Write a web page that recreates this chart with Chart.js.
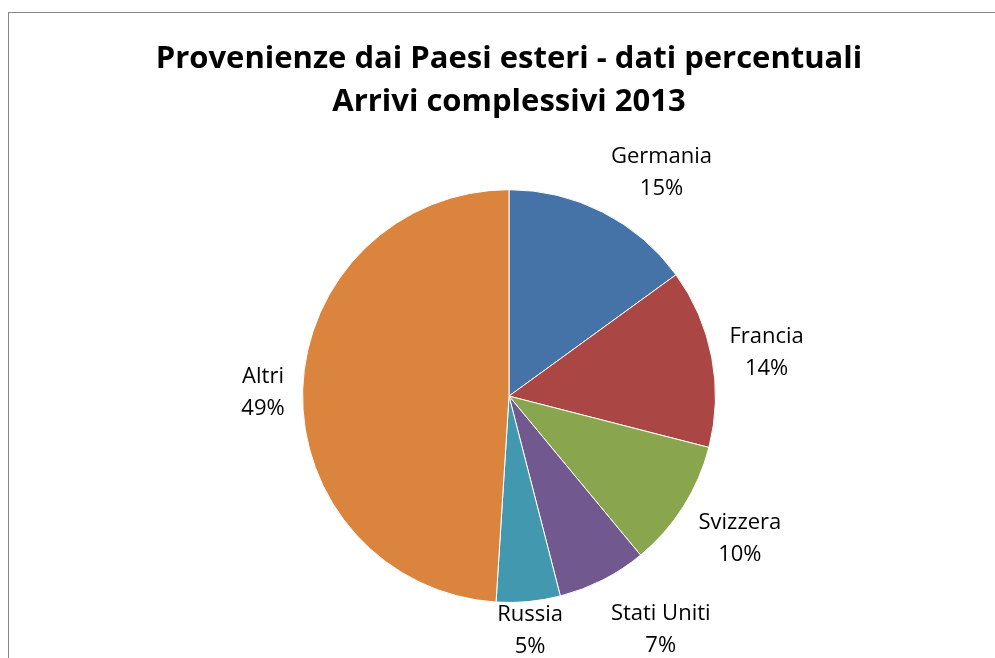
<!DOCTYPE html>
<html>
<head>
<meta charset="utf-8">
<script src="https://cdn.jsdelivr.net/npm/chart.js@4"></script>
<style>
  html, body { margin: 0; padding: 0; background: #fff; overflow: hidden; }
  #frame { position: absolute; left: 8px; top: 12px; width: 1100px; height: 800px; border: 1px solid #868686; }
  #wrap { position: absolute; left: 0; top: 0; width: 995px; height: 658px; }
</style>
</head>
<body>
<div id="frame"></div>
<div id="wrap"><canvas id="pieChart"></canvas></div>
<script>
const paesi = ['Germania', 'Francia', 'Svizzera', 'Stati Uniti', 'Russia', 'Altri'];
const percentuali = [15, 14, 10, 7, 5, 49];
const colori = ['#4572A7', '#AA4643', '#89A54E', '#71588F', '#4198AF', '#DB843D'];
const titolo = ['Provenienze dai Paesi esteri - dati percentuali', 'Arrivi complessivi 2013'];

const labelFont = '22px "Open Sans"';

// spostamento orizzontale dell'etichetta fuori dalla fetta
function spintaX(d) {
    const v = Math.max(0, Math.min(1, (Math.abs(d) - 0.15) * 3.3));
    return Math.sign(d) * v;
}

// etichette esterne (categoria + percentuale), stile Excel
const outsideLabels = {
    id: 'outsideLabels',
    afterDatasetsDraw(chart) {
        const ctx = chart.ctx;
        const meta = chart.getDatasetMeta(0);
        const total = percentuali.reduce((a, b) => a + b, 0);
        ctx.save();
        ctx.font = labelFont;
        ctx.fillStyle = '#000';
        ctx.textAlign = 'center';
        ctx.textBaseline = 'middle';
        const lineH = 32;
        meta.data.forEach((arc, i) => {
            const p = arc.getProps(['x', 'y', 'startAngle', 'endAngle', 'outerRadius']);
            const mid = (p.startAngle + p.endAngle) / 2;
            const dx = Math.cos(mid), dy = Math.sin(mid);
            const r = p.outerRadius + 18;
            const ax = p.x + dx * r, ay = p.y + dy * r;
            const lines = [paesi[i], Math.round(percentuali[i] / total * 100) + '%'];
            const w = Math.max(...lines.map(l => ctx.measureText(l).width));
            const h = lineH * lines.length;
            let cx = ax + spintaX(dx) * w / 2;
            let cy = ay + dy * h / 2 + 5;
            cy = Math.min(cy, chart.height + 5 - h / 2);
            lines.forEach((l, k) => {
                ctx.fillText(l, cx, cy - h / 2 + lineH / 2 + k * lineH);
            });
        });
        ctx.restore();
    }
};

document.addEventListener('DOMContentLoaded', () => {
    const ctx = document.getElementById('pieChart').getContext('2d');

    new Chart(ctx, {
        type: 'pie',
        data: {
            labels: paesi,
            datasets: [{
                data: percentuali,
                backgroundColor: colori,
                borderColor: '#ffffff',
                borderWidth: 1
            }]
        },
        options: {
            responsive: true,
            maintainAspectRatio: false,
            animation: false,
            layout: {
                padding: { top: 38, bottom: 55, left: 30, right: 7 }
            },
            plugins: {
                legend: { display: false },
                tooltip: { enabled: false },
                title: {
                    display: true,
                    text: titolo,
                    color: '#000',
                    font: { family: '"Open Sans"', size: 31, weight: 'bold', lineHeight: 1.39 },
                    padding: { top: 0, bottom: 65 }
                }
            }
        },
        plugins: [outsideLabels]
    });
});
</script>
</body>
</html>
